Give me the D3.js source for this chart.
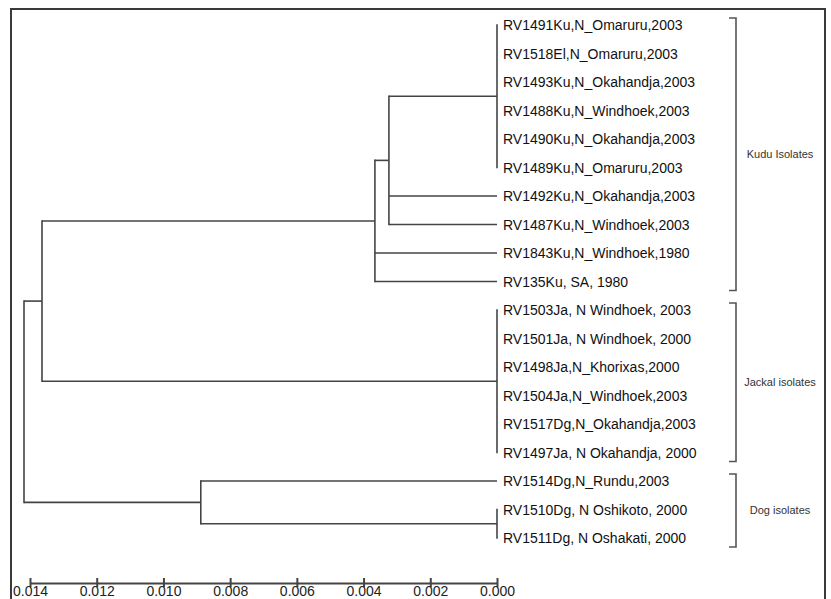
<!DOCTYPE html>
<meta charset="utf-8">
<html>
<head><title>rabies isolates tree</title>
    <script src="https://cdn.jsdelivr.net/npm/d3@7"></script>
    <style>
        body { margin: 0; background: #fff; }
        .branch { stroke: #444; stroke-width: 1.6; fill: none; }
        .frame { fill: none; stroke: #3a3a3a; stroke-width: 2; }
        .leaf { font-family: "Liberation Sans", Arial, sans-serif; font-size: 14px; fill: #111; }
        .group { font-family: "Liberation Sans", Arial, sans-serif; font-size: 11px; fill: #333; }
        .bracket { stroke: #555; stroke-width: 1.6; fill: none; }
        .axis text { font-family: "Liberation Sans", Arial, sans-serif; font-size: 14px; fill: #222; }
        .axis line, .axis path { stroke: #444; stroke-width: 2; }
    </style>
</head>
<body>
<div id="treeDiv"></div>
<script>

    var SVGwidth = 831, SVGheight = 599;

    // leaves, top to bottom
    var leafNames = [
        "RV1491Ku,N_Omaruru,2003",
        "RV1518El,N_Omaruru,2003",
        "RV1493Ku,N_Okahandja,2003",
        "RV1488Ku,N_Windhoek,2003",
        "RV1490Ku,N_Okahandja,2003",
        "RV1489Ku,N_Omaruru,2003",
        "RV1492Ku,N_Okahandja,2003",
        "RV1487Ku,N_Windhoek,2003",
        "RV1843Ku,N_Windhoek,1980",
        "RV135Ku, SA, 1980",
        "RV1503Ja, N Windhoek, 2003",
        "RV1501Ja, N Windhoek, 2000",
        "RV1498Ja,N_Khorixas,2000",
        "RV1504Ja,N_Windhoek,2003",
        "RV1517Dg,N_Okahandja,2003",
        "RV1497Ja, N Okahandja, 2000",
        "RV1514Dg,N_Rundu,2003",
        "RV1510Dg, N Oshikoto, 2000",
        "RV1511Dg, N Oshakati, 2000"
    ];

    // internal nodes: name, children (node names or leaf indices), height (distance from tips)
    var nodeNames    = ["root", "kuduJackal", "kudu", "kuduA", "kuduB", "jackal", "dog", "dogB"];
    var nodeChildren = [
        ["kuduJackal", "dog"],
        ["kudu", "jackal"],
        ["kuduA", 8, 9],
        ["kuduB", 6, 7],
        [0, 1, 2, 3, 4, 5],
        [10, 11, 12, 13, 14, 15],
        [16, "dogB"],
        [17, 18]
    ];
    var nodeHeights  = [0.01418, 0.01364, 0.00366, 0.00324, 0, 0, 0.00888, 0];

    // clade brackets
    var groupNames = ["Kudu Isolates", "Jackal isolates", "Dog isolates"];
    var groupFirst = [0, 10, 16];
    var groupLast  = [9, 15, 18];

    var axisTicks = [0.014, 0.012, 0.010, 0.008, 0.006, 0.004, 0.002, 0.000];

    // build nested tree for d3.hierarchy
    function buildNode(ref) {
        if (typeof ref === "number") {
            return {name: leafNames[ref], leaf: ref, height: 0};
        }
        var i = nodeNames.indexOf(ref);
        return {name: ref, height: nodeHeights[i], children: nodeChildren[i].map(buildNode)};
    }

    var root = d3.hierarchy(buildNode("root"));

    var x = d3.scaleLinear().domain([0.014, 0]).range([30, 497]);
    var y = d3.scalePoint().domain(d3.range(leafNames.length)).range([25, 538]);

    // leaves on the point scale, parents at midpoint of first and last child
    root.eachAfter(function(d) {
        d.px = x(d.data.height);
        if (!d.children) {
            d.py = y(d.data.leaf);
        } else {
            d.py = (d.children[0].py + d.children[d.children.length - 1].py) / 2;
        }
    });

    var svg = d3.select("#treeDiv").append("svg")
            .attr("width", SVGwidth)
            .attr("height", SVGheight);

    svg.append("rect")
            .attr("class", "frame")
            .attr("x", 11)
            .attr("y", 9)
            .attr("width", 814)
            .attr("height", 620);

    var g = svg.append("g");

    // horizontal branches
    g.selectAll(".hbranch")
            .data(root.descendants().filter(function(d) { return d.parent; }))
            .enter()
            .append("line")
            .attr("class", "branch")
            .attr("x1", function(d) { return d.parent.px; })
            .attr("x2", function(d) { return d.px; })
            .attr("y1", function(d) { return d.py; })
            .attr("y2", function(d) { return d.py; });

    // vertical connectors
    g.selectAll(".vbranch")
            .data(root.descendants().filter(function(d) { return d.children; }))
            .enter()
            .append("line")
            .attr("class", "branch")
            .attr("x1", function(d) { return d.px; })
            .attr("x2", function(d) { return d.px; })
            .attr("y1", function(d) { return d.children[0].py - 0.8; })
            .attr("y2", function(d) { return d.children[d.children.length - 1].py + 0.8; });

    g.selectAll(".leaf")
            .data(root.leaves())
            .enter()
            .append("text")
            .attr("class", "leaf")
            .attr("x", function(d) { return d.px + 6; })
            .attr("y", function(d) { return d.py; })
            .attr("dy", "0.36em")
            .text(function(d) { return d.data.name; });

    // brackets
    var bx = 736;
    groupNames.forEach(function(name, i) {
        var y0 = y(groupFirst[i]) - 7, y1 = y(groupLast[i]) + 9;
        svg.append("path")
                .attr("class", "bracket")
                .attr("d", "M" + (bx - 7) + "," + y0 + "H" + bx + "V" + y1 + "H" + (bx - 7));
        svg.append("text")
                .attr("class", "group")
                .attr("x", 780)
                .attr("y", (y0 + y1) / 2)
                .attr("dy", "0.35em")
                .attr("text-anchor", "middle")
                .text(name);
    });

    // scale bar
    var axis = d3.axisBottom(x)
            .tickValues(axisTicks)
            .tickSizeOuter(0)
            .tickSizeInner(4)
            .tickFormat(d3.format(".3f"));

    var ax = svg.append("g")
            .attr("class", "axis")
            .attr("transform", "translate(0,583)")
            .call(axis);
    ax.selectAll(".tick line").attr("y1", -5).attr("y2", 4);
    ax.selectAll(".tick text").attr("y", 3);

</script>
</body>
</html>
